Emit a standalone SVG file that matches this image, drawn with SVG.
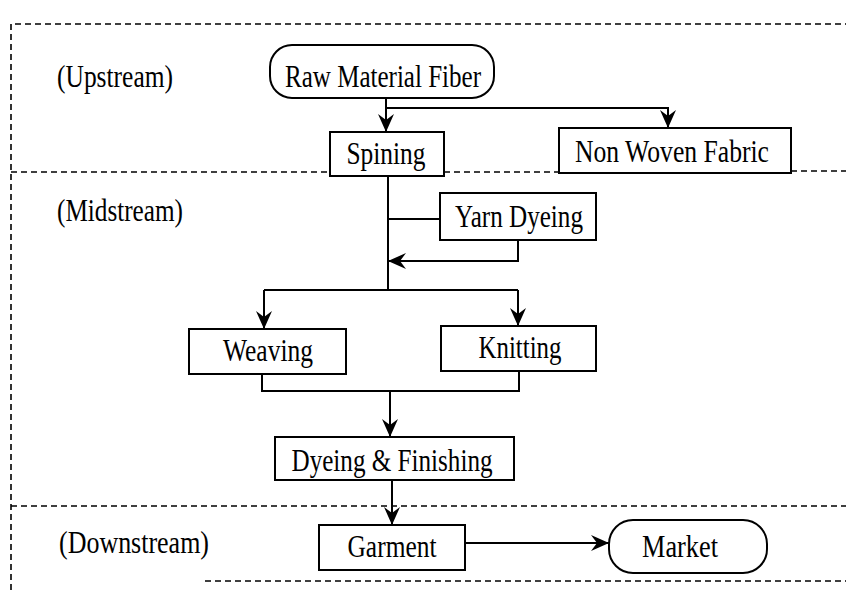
<svg xmlns="http://www.w3.org/2000/svg" width="846" height="590" viewBox="0 0 846 590">
  <style>
    .bg { fill: #ffffff; }
    .zone { fill: none; stroke: #000; stroke-width: 1.6; stroke-dasharray: 6 4; }
    .box { fill: #ffffff; stroke: #000; stroke-width: 2; }
    .conn { fill: none; stroke: #000; stroke-width: 2; }
    .lbl { font-family: "Liberation Serif", "Times New Roman", serif; font-size: 31px; fill: #000; text-anchor: middle; }
    .zl { font-family: "Liberation Serif", "Times New Roman", serif; font-size: 31px; fill: #000; text-anchor: start; }
  </style>
  <defs>
    <marker id="ah" viewBox="0 0 18 16" refX="18" refY="8" markerWidth="18" markerHeight="16" markerUnits="userSpaceOnUse" orient="auto">
      <path d="M18,8 L0,0 L6,8 L0,16 Z" fill="#000"/>
    </marker>
  </defs>
  <rect class="bg" x="0" y="0" width="846" height="590"/>

  <g id="zones">
    <path class="zone" d="M11,590 L11,24 L846,24"/>
    <path class="zone" d="M11,172 L330,172"/>
    <path class="zone" d="M444,172 L559,172"/>
    <path class="zone" d="M791,171 L846,171"/>
    <path class="zone" d="M11,506 L846,506"/>
    <path class="zone" d="M205,581 L846,581"/>
    <text class="zl" x="57" y="87" textLength="116" lengthAdjust="spacingAndGlyphs">(Upstream)</text>
    <text class="zl" x="57" y="221" textLength="126" lengthAdjust="spacingAndGlyphs">(Midstream)</text>
    <text class="zl" x="59" y="553" textLength="150" lengthAdjust="spacingAndGlyphs">(Downstream)</text>
  </g>

  <g id="connectors">
    <path class="conn" d="M386,98 L386,132" marker-end="url(#ah)"/>
    <path class="conn" d="M386,108 L668,108 L668,128" marker-end="url(#ah)"/>
    <path class="conn" d="M388,176 L388,290"/>
    <path class="conn" d="M388,219 L440,219"/>
    <path class="conn" d="M518,240 L518,261 L388,261" marker-end="url(#ah)"/>
    <path class="conn" d="M264,290 L518,290"/>
    <path class="conn" d="M264,290 L264,329" marker-end="url(#ah)"/>
    <path class="conn" d="M518,290 L518,326" marker-end="url(#ah)"/>
    <path class="conn" d="M262,374 L262,391 L519,391 L519,371"/>
    <path class="conn" d="M390,391 L390,437" marker-end="url(#ah)"/>
    <path class="conn" d="M392,480 L392,525" marker-end="url(#ah)"/>
    <path class="conn" d="M465,543 L609,543" marker-end="url(#ah)"/>
  </g>

  <g id="raw-material-fiber">
    <rect class="box" x="270" y="45" width="224" height="53" rx="22" ry="22"/>
    <text class="lbl" x="383" y="87" textLength="196" lengthAdjust="spacingAndGlyphs">Raw Material Fiber</text>
  </g>
  <g id="spining">
    <rect class="box" x="330" y="132" width="114" height="44"/>
    <text class="lbl" x="386" y="164" textLength="79" lengthAdjust="spacingAndGlyphs">Spining</text>
  </g>
  <g id="non-woven-fabric">
    <rect class="box" x="559" y="128" width="232" height="45"/>
    <text class="lbl" x="672" y="162" textLength="194" lengthAdjust="spacingAndGlyphs">Non Woven Fabric</text>
  </g>
  <g id="yarn-dyeing">
    <rect class="box" x="440" y="193" width="156" height="47"/>
    <text class="lbl" x="519" y="227" textLength="128" lengthAdjust="spacingAndGlyphs">Yarn Dyeing</text>
  </g>
  <g id="weaving">
    <rect class="box" x="189" y="329" width="157" height="45"/>
    <text class="lbl" x="268" y="361" textLength="90" lengthAdjust="spacingAndGlyphs">Weaving</text>
  </g>
  <g id="knitting">
    <rect class="box" x="441" y="326" width="155" height="45"/>
    <text class="lbl" x="520" y="358" textLength="83" lengthAdjust="spacingAndGlyphs">Knitting</text>
  </g>
  <g id="dyeing-finishing">
    <rect class="box" x="275" y="437" width="239" height="43"/>
    <text class="lbl" x="392" y="471" textLength="201" lengthAdjust="spacingAndGlyphs">Dyeing &amp; Finishing</text>
  </g>
  <g id="garment">
    <rect class="box" x="319" y="525" width="146" height="45"/>
    <text class="lbl" x="392" y="557" textLength="89" lengthAdjust="spacingAndGlyphs">Garment</text>
  </g>
  <g id="market">
    <rect class="box" x="609" y="520" width="158" height="53" rx="24" ry="24"/>
    <text class="lbl" x="680" y="557" textLength="76" lengthAdjust="spacingAndGlyphs">Market</text>
  </g>
</svg>
